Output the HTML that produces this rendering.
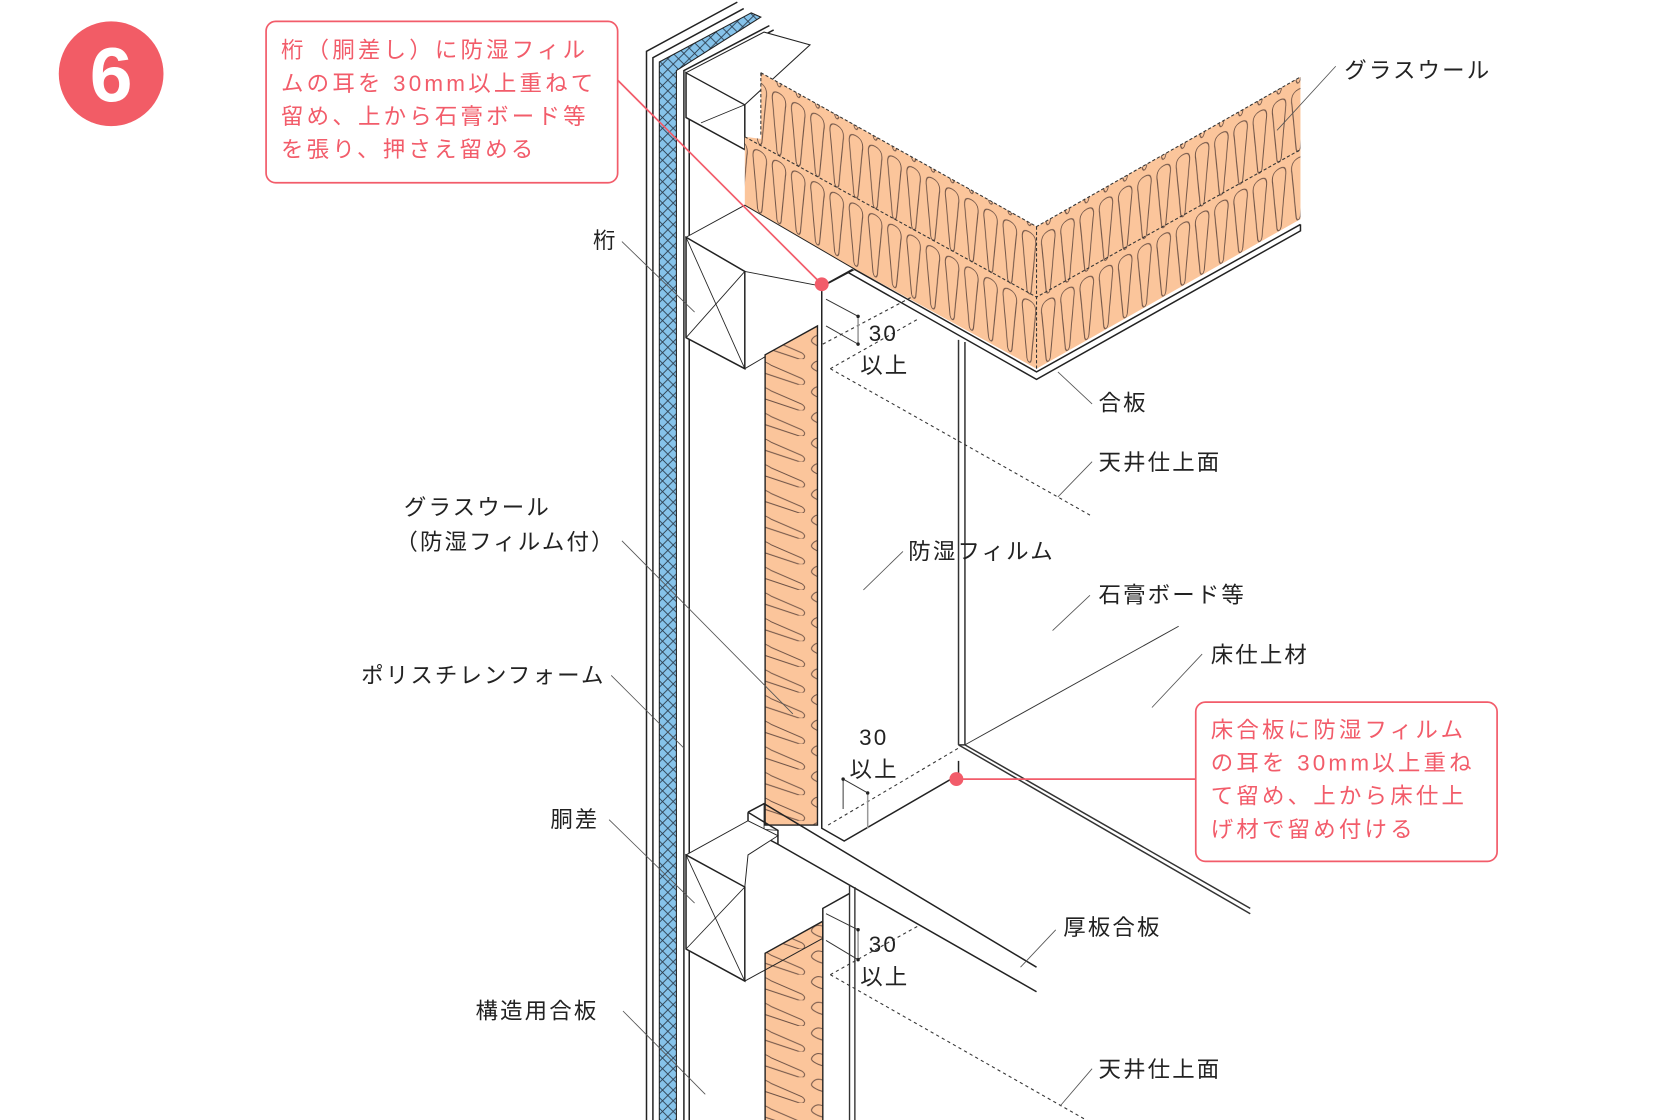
<!DOCTYPE html>
<html><head><meta charset="utf-8"><style>
html,body{margin:0;padding:0;background:#fff;}
svg{display:block;}
text{font-family:"Liberation Sans","Noto Sans CJK JP",sans-serif;}
.l{font-size:21px;fill:#222;letter-spacing:2px;}
.r{font-size:21px;fill:#f25c6a;letter-spacing:3px;}
</style></head><body>
<svg width="1667" height="1120" viewBox="0 0 1560 1048" preserveAspectRatio="none" xmlns="http://www.w3.org/2000/svg">
<defs>
<pattern id="gwL" width="18" height="64" patternUnits="userSpaceOnUse" patternTransform="skewY(29)">
<rect width="18" height="64" fill="#fbc59b"/>
<path d="M9 3 C15 3 16 8 15 14 L11 58 C10 62 8 62 7 58 L3 14 C2 8 3 3 9 3Z" fill="none" stroke="#6b5044" stroke-width="0.9"/>
</pattern>
<pattern id="gwR" width="18" height="64" patternUnits="userSpaceOnUse" patternTransform="skewY(-29.5)">
<rect width="18" height="64" fill="#fbc59b"/>
<path d="M9 3 C15 3 16 8 15 14 L11 58 C10 62 8 62 7 58 L3 14 C2 8 3 3 9 3Z" fill="none" stroke="#6b5044" stroke-width="0.9"/>
</pattern>
<pattern id="gwV" width="54" height="24" patternUnits="userSpaceOnUse">
<rect width="54" height="24" fill="#fbc59b"/>
<path d="M5 4 C9 0 14 2 20 6 L48 18 C53 21 51 25 46 24 L10 12 C3 9 2 7 5 4Z" fill="none" stroke="#6b5044" stroke-width="0.9"/>
</pattern>
<pattern id="xh" width="10" height="10" patternUnits="userSpaceOnUse">
<rect width="10" height="10" fill="#86c3ea"/>
<path d="M0 0 L10 10 M10 0 L0 10" stroke="#2a3a4a" stroke-width="0.8"/>
</pattern>
</defs>

<circle cx="104" cy="69" r="49" fill="#f25c66"/>
<text x="104" y="95" text-anchor="middle" style="font-size:72px;font-weight:bold;fill:#fff">6</text>

<g stroke="#222" stroke-width="1.4" fill="none">
<path d="M605 1052 V48 L690 2"/>
<path d="M611 1052 V54 L696 8"/>
<path d="M640 1052 V66 L720 24"/>
<path d="M645 1052 V70 L724 28"/>
</g>
<path d="M617 1052 V58 L703 12 L712 16 L633 66 V1052Z" fill="url(#xh)" stroke="#222" stroke-width="1"/>

<g stroke="#222" stroke-width="1.4" fill="#fff">
<path d="M642 68 L697 98 V140 L642 110Z"/>
<path d="M642 68 L715 30 L758 42 L697 98Z" stroke-width="1"/>
<line x1="697" y1="98" x2="656" y2="115" stroke-width="0.8"/>
</g>

<path d="M712 68 L970 212 L970 345 L697 195 L697 128 L712 130Z" fill="url(#gwL)"/>
<path d="M970 212 L1217 72 L1217 205 L970 345Z" fill="url(#gwR)"/>
<g stroke="#333" stroke-width="1" stroke-dasharray="3 2" fill="none">
<path d="M712 68 L970 212 L1217 72"/>
<path d="M697 128 L970 278 L1217 140"/>
<path d="M970 212 V345"/>
<path d="M712 68 V128"/>
</g>
<g stroke="#222" stroke-width="1.4" fill="none">
<path d="M725 210 L970 348 L1217 210"/>
<path d="M725 210 V216 L970 355 L1217 216 V210"/>
</g>

<g stroke="#222" stroke-width="1.4" fill="#fff">
<path d="M642 222 L697 192 L800 252 L770 268 L697 254Z" stroke-width="0.9"/>
<path d="M642 222 L697 254 V345 L642 316Z"/>
<line x1="642" y1="222" x2="697" y2="345" stroke-width="0.8"/>
<line x1="697" y1="254" x2="642" y2="316" stroke-width="0.8"/>
<path d="M697 345 L765 305" stroke-width="0.9"/>
</g>

<path d="M716 332 L765 305 V772 L716 772Z" fill="url(#gwV)" stroke="#222" stroke-width="1.3"/>
<path d="M716 1052 V892 L770 862 V1052Z" fill="url(#gwV)" stroke="#222" stroke-width="1.3"/>

<g stroke="#222" stroke-width="1.4" fill="none">
<path d="M769 268 V775 L790 787 L897 725 L897 712"/>
<path d="M769 268 L798 252"/>
</g>
<g stroke="#333" stroke-width="1.4" fill="none">
<line x1="897" y1="318" x2="897" y2="697"/>
<line x1="903" y1="320" x2="903" y2="697"/>
<path d="M897 697 L1170 855"/>
<path d="M903 697 L1170 850"/>
<path d="M897 697 L903 697"/>
</g>
<line x1="903" y1="697" x2="1103" y2="586" stroke="#333" stroke-width="0.9"/>

<g stroke="#222" stroke-width="1.4" fill="none">
<path d="M700 760 L715 752 L970 905"/>
<path d="M700 760 V775 L728 790 L970 928"/>
<path d="M728 790 V777 L700 760"/>
<line x1="715" y1="752" x2="715" y2="777" stroke-width="0.8"/>
<line x1="700" y1="775" x2="728" y2="777" stroke-width="0.8"/>
</g>

<g stroke="#222" stroke-width="1.4" fill="#fff">
<path d="M642 800 L700 768 L728 782 L700 800 L697 830Z" stroke-width="0.9"/>
<path d="M642 800 L697 830 V918 L642 888Z"/>
<line x1="642" y1="800" x2="697" y2="918" stroke-width="0.8"/>
<line x1="697" y1="830" x2="642" y2="888" stroke-width="0.8"/>
<path d="M697 918 L770 878" stroke-width="0.9"/>
<path d="M770 880 V850 L795 836"/>
</g>
<g stroke="#333" stroke-width="1.3" fill="none">
<line x1="795" y1="828" x2="795" y2="1052"/>
<line x1="800" y1="830" x2="800" y2="1052"/>
</g>

<g stroke="#333" stroke-width="1" stroke-dasharray="3 3" fill="none">
<path d="M777 345 L860 298"/>
<path d="M777 345 L1020 482"/>
<path d="M770 322 L855 277"/>
<path d="M775 772 L897 700"/>
<path d="M777 912 L860 866"/>
<path d="M777 912 L1020 1050"/>
</g>
<g stroke="#333" stroke-width="0.9" fill="none">
<path d="M773 280 L803 296 M773 305 L803 322"/>
<line x1="803" y1="296" x2="803" y2="322" stroke="#999" stroke-width="1.4"/>
<path d="M789 729 V757 M789 729 L812 742"/>
<line x1="812" y1="742" x2="812" y2="775" stroke="#999" stroke-width="1.4"/>
<path d="M773 855 L803 870 M773 880 L803 898"/>
<line x1="803" y1="870" x2="803" y2="898" stroke="#999" stroke-width="1.4"/>
</g>
<g fill="#222"><circle cx="803" cy="296" r="1.6"/><circle cx="803" cy="322" r="1.6"/><circle cx="789" cy="729" r="1.6"/><circle cx="812" cy="742" r="1.6"/><circle cx="803" cy="870" r="1.6"/><circle cx="803" cy="898" r="1.6"/></g>

<g stroke="#555" stroke-width="0.8" fill="none">
<path d="M1250 62 L1195 122"/>
<path d="M582 226 L650 292"/>
<path d="M1022 378 L990 348"/>
<path d="M1022 432 L990 465"/>
<path d="M582 506 L742 668"/>
<path d="M845 516 L808 552"/>
<path d="M1020 557 L985 590"/>
<path d="M1125 612 L1078 662"/>
<path d="M572 632 L640 700"/>
<path d="M570 767 L650 845"/>
<path d="M988 870 L955 905"/>
<path d="M583 946 L660 1024"/>
<path d="M1022 1000 L992 1035"/>
</g>

<rect x="249" y="20" width="329" height="151" rx="9" fill="#fff" stroke="#f25c6a" stroke-width="1.6"/>
<text class="r" x="263" y="54">桁（胴差し）に防湿フィル</text>
<text class="r" x="263" y="85">ムの耳を 30mm以上重ねて</text>
<text class="r" x="263" y="116">留め、上から石膏ボード等</text>
<text class="r" x="263" y="147">を張り、押さえ留める</text>
<line x1="578" y1="75" x2="769" y2="266" stroke="#f25c6a" stroke-width="1.6"/>
<circle cx="769" cy="266" r="6.5" fill="#f25c6a"/>

<rect x="1119" y="657" width="282" height="149" rx="9" fill="#fff" stroke="#f25c6a" stroke-width="1.6"/>
<text class="r" x="1133" y="690">床合板に防湿フィルム</text>
<text class="r" x="1133" y="721">の耳を 30mm以上重ね</text>
<text class="r" x="1133" y="752">て留め、上から床仕上</text>
<text class="r" x="1133" y="783">げ材で留め付ける</text>
<line x1="1119" y1="729" x2="895" y2="729" stroke="#f25c6a" stroke-width="1.6"/>
<circle cx="895" cy="729" r="6.5" fill="#f25c6a"/>

<text class="l" x="1258" y="73">グラスウール</text>
<text class="l" x="555" y="232">桁</text>
<text class="l" x="813" y="319">30</text>
<text class="l" x="805" y="349">以上</text>
<text class="l" x="1028" y="384">合板</text>
<text class="l" x="1028" y="440">天井仕上面</text>
<text class="l" x="378" y="482">グラスウール</text>
<text class="l" x="370" y="514">（防湿フィルム付）</text>
<text class="l" x="850" y="523">防湿フィルム</text>
<text class="l" x="1028" y="564">石膏ボード等</text>
<text class="l" x="1133" y="620">床仕上材</text>
<text class="l" x="338" y="639">ポリスチレンフォーム</text>
<text class="l" x="804" y="697">30</text>
<text class="l" x="795" y="727">以上</text>
<text class="l" x="515" y="774">胴差</text>
<text class="l" x="995" y="875">厚板合板</text>
<text class="l" x="813" y="891">30</text>
<text class="l" x="805" y="921">以上</text>
<text class="l" x="445" y="953">構造用合板</text>
<text class="l" x="1028" y="1008">天井仕上面</text>
</svg>
</body></html>
